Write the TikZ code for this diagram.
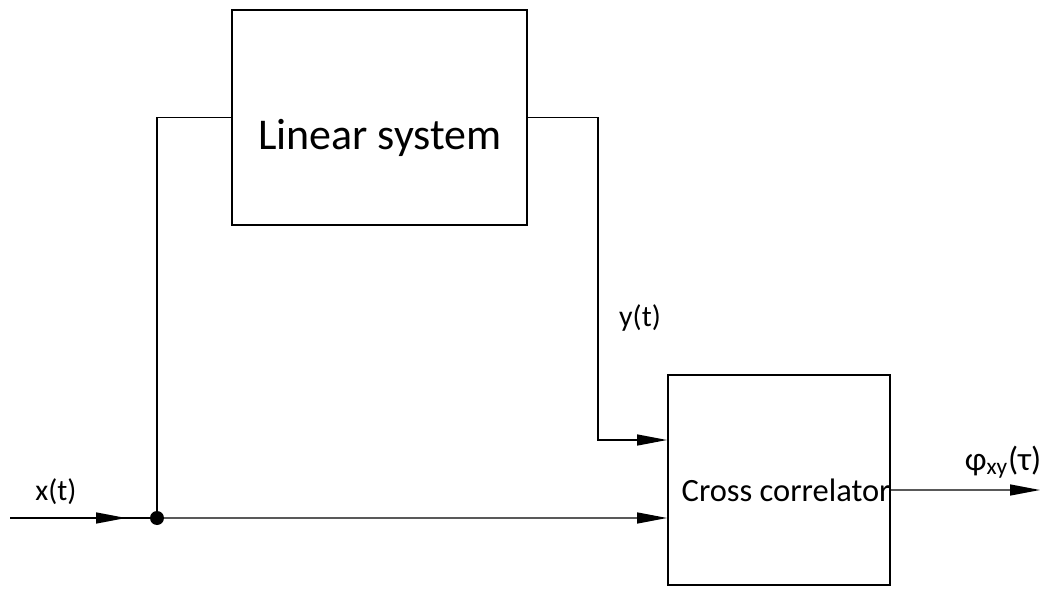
\documentclass[tikz,border=0pt]{standalone}
\usepackage{fontspec}
\setmainfont{Carlito}
\usetikzlibrary{arrows.meta,positioning}

\begin{document}
\begin{tikzpicture}[x=0.02cm,y=-0.02cm,>={Triangle[length=0.6cm,width=0.22cm]},line width=0.8pt,
  blok/.style={draw,line width=1.1pt,inner sep=0pt},
  sig/.style={font=\fontsize{17}{20}\selectfont}]
  \useasboundingbox (0,0) rectangle (1055,591);
  % blocks
  \node[blok,minimum width=5.9cm,minimum height=4.3cm] (lin) at (379.5,117.5) {};
  \node[font=\fontsize{25}{29}\selectfont] (lintxt) at (380,138) {Linear system};
  \node[blok,minimum width=4.44cm,minimum height=4.2cm] (cc) at (779,480) {};
  \node[font=\fontsize{18.5}{22}\selectfont,anchor=west,inner sep=0pt] (cctxt) at (681,490) {Cross correlator};
  % points
  \coordinate (src) at (10,518);
  \coordinate (tip) at (126,518);
  \coordinate (ytop) at (598,117.5);
  \coordinate (out) at (1040,490);
  \fill (157,518) circle (7) coordinate (dot);
  % wires
  \draw (src) -- (dot);
  \draw[->] (src) -- (tip);
  \draw (dot) |- (lin.west);
  \draw[->] (dot) -- ([yshift=-0.76cm]cc.west);
  \draw[->] (lin.east) -- (ytop) |- ([yshift=0.8cm]cc.west);
  \draw[->] ([yshift=-0.2cm]cc.east) -- (out);
  % labels
  \node[sig] (xlbl) at (56,492) {x(t)};
  \node[sig] (ylbl) at (640,318) {y(t)};
  \node[font=\fontsize{19}{22}\selectfont] (philbl) at (1003,462) {φ\textsubscript{xy}(τ)};
\end{tikzpicture}
\end{document}
